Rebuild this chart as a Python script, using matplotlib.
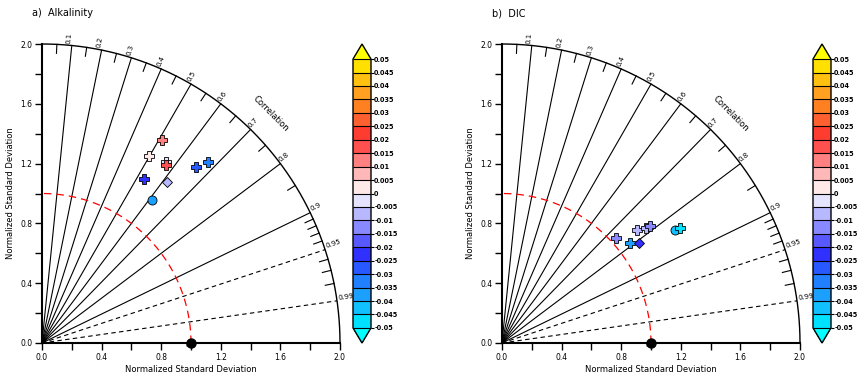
"""
Taylor diagrams for alkalinity and DIC, markers coloured by bias.
Writes out.png
"""

import numpy as np
import matplotlib
matplotlib.use("Agg")
import matplotlib.pyplot as plt
from matplotlib.colors import ListedColormap, BoundaryNorm
from matplotlib.cm import ScalarMappable

plt.rcParams.update({
    "font.family": ["DejaVu Sans"],
    "axes.linewidth": 1.5,
})

# --- Data ----------------------------------------------------------------
LEVELS = [-0.05, -0.045, -0.04, -0.035, -0.03, -0.025, -0.02, -0.015, -0.01, -0.005,
          0.0, 0.005, 0.01, 0.015, 0.02, 0.025, 0.03, 0.035, 0.04, 0.045, 0.05]
COLORS = ["#00E0FF", "#10C0FF", "#1CA0FF", "#2080FF", "#2858FF",
          "#3030FF", "#5858FF", "#8888FF", "#B8B8FF", "#E4E4FF",
          "#FFE8E8", "#FFB8B8", "#FF8080", "#FF5050", "#FF3C30",
          "#FF6030", "#FF8020", "#FFA020", "#FFC010", "#FFE000"]
OVER_CLR = "#FFFF00"
UNDER_CLR = "#00FFFF"

CORR_SOLID = [0.1, 0.2, 0.3, 0.4, 0.5, 0.6, 0.7, 0.8, 0.9]
CORR_DASHED = [0.95, 0.99]
CORR_MINOR = [0.05, 0.15, 0.25, 0.35, 0.45, 0.55, 0.65, 0.75, 0.85,
              0.91, 0.92, 0.93, 0.94, 0.96, 0.97, 0.98]

# Alkalinity: normalized std, correlation, bias, marker
alk_std = [1.582, 1.440, 1.468, 1.450, 1.563, 1.643, 1.294, 1.366, 1.208]
alk_cor = [0.511, 0.499, 0.567, 0.574, 0.660, 0.677, 0.529, 0.613, 0.609]
alk_bias = [0.012, 0.002, -0.002, 0.017, -0.027, -0.033, -0.022, -0.007, -0.037]
alk_mark = ["P", "P", "P", "P", "P", "P", "P", "D", "o"]

# DIC
dic_std = [1.036, 1.089, 1.179, 1.238, 1.262, 1.139, 1.385, 1.419]
dic_cor = [0.738, 0.787, 0.768, 0.783, 0.785, 0.808, 0.838, 0.840]
dic_bias = [-0.012, -0.037, -0.007, -0.007, -0.012, -0.022, -0.042, -0.047]
dic_mark = ["P", "P", "P", "P", "P", "D", "o", "P"]

cmap = ListedColormap(COLORS)
cmap.set_over(OVER_CLR)
cmap.set_under(UNDER_CLR)
norm = BoundaryNorm(LEVELS, cmap.N)

W, H = 857, 374


def taylor(fig, left_px, title, std, cor, bias, marks):
    ax = fig.add_axes([left_px / W, 31 / H, 298 / W, 299 / H])
    ax.set_xlim(0, 2)
    ax.set_ylim(0, 2)
    for s in ("top", "right"):
        ax.spines[s].set_visible(False)
    ticks = [0, 0.4, 0.8, 1.2, 1.6, 2.0]
    ax.set_xticks(ticks)
    ax.set_yticks(ticks)
    ax.set_xticklabels([f"{t:.1f}" for t in ticks])
    ax.set_yticklabels([f"{t:.1f}" for t in ticks])
    ax.set_xticks([0.2, 0.6, 1.0, 1.4, 1.8], minor=True)
    ax.set_yticks([0.2, 0.6, 1.0, 1.4, 1.8], minor=True)
    ax.tick_params(which="both", direction="out", length=5, width=1,
                   labelsize=5.5, pad=2)
    ax.set_xlabel("Normalized Standard Deviation", fontsize=6, labelpad=2)
    ax.set_ylabel("Normalized Standard Deviation", fontsize=6, labelpad=4)

    # outer arc
    th = np.linspace(0, np.pi / 2, 300)
    ax.plot(2 * np.cos(th), 2 * np.sin(th), color="black", lw=1, clip_on=False)

    # correlation rays + labels
    for c in CORR_SOLID + CORR_DASHED:
        a = np.arccos(c)
        ls = (0, (4, 3)) if c in CORR_DASHED else "-"
        ax.plot([0, 2 * np.cos(a)], [0, 2 * np.sin(a)], color="black",
                lw=0.8, ls=ls, clip_on=False)
        ax.text(2.01 * np.cos(a), 2.01 * np.sin(a), f"{c:g}", fontsize=5,
                rotation=np.degrees(a), rotation_mode="anchor",
                ha="left", va="bottom")
    for c in CORR_MINOR:
        a = np.arccos(c)
        ax.plot([1.94 * np.cos(a), 2 * np.cos(a)],
                [1.94 * np.sin(a), 2 * np.sin(a)],
                color="black", lw=0.8, clip_on=False)

    a = np.radians(45)
    ax.text(2.17 * np.cos(a), 2.17 * np.sin(a), "Correlation", fontsize=6,
            rotation=-45, ha="center", va="center")

    # reference arc
    ax.plot(np.cos(th), np.sin(th), color="red", lw=0.9,
            dashes=(6, 4), clip_on=False)
    ax.plot(1, 0, "o", color="black", ms=6.5, clip_on=False, zorder=5)
    ax.text(1, -0.015, "OBS", fontsize=3.5, ha="center", va="center", zorder=6)

    # models
    for s, c, b, m in zip(std, cor, bias, marks):
        x = s * c
        y = s * np.sqrt(1 - c ** 2)
        ms = {"P": 7, "D": 5, "o": 6.5}[m]
        ax.plot(x, y, marker=m, ms=ms, mfc=cmap(norm(b)), mec="black",
                mew=0.6, ls="none", zorder=6, clip_on=False)

    fig.text((left_px - 10) / W, 1 - 13 / H, title, fontsize=7,
             ha="left", va="center")

    # colorbar
    cax = fig.add_axes([(left_px + 311) / W, 31 / H, 18 / W, 299 / H])
    cb = fig.colorbar(ScalarMappable(norm=norm, cmap=cmap), cax=cax,
                      extend="both", extendfrac=0.056, drawedges=True,
                      ticks=LEVELS)
    cb.set_ticklabels(["0" if v == 0 else f"{v:g}" for v in LEVELS])
    cb.outline.set_linewidth(1)
    cb.dividers.set_linewidth(0.8)
    cax.tick_params(labelsize=4.7, length=2, width=0.8, pad=0.3)
    for t in cax.get_yticklabels():
        t.set_fontweight("bold")


fig = plt.figure(figsize=(W / 100, H / 100), dpi=100)
taylor(fig, 42, "a)  Alkalinity", alk_std, alk_cor, alk_bias, alk_mark)
taylor(fig, 502, "b)  DIC", dic_std, dic_cor, dic_bias, dic_mark)
fig.savefig("out.png", dpi=100)
